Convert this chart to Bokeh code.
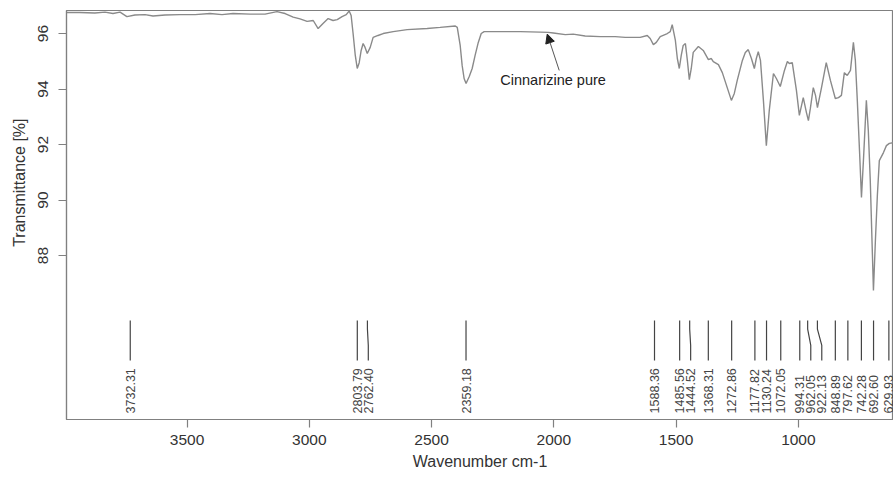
import math
from bokeh.plotting import figure
from bokeh.models import Range1d, FixedTicker, Label, Arrow, NormalHead, ColumnDataSource, Title
from bokeh.embed import file_html
from bokeh.resources import INLINE
from bokeh.core.properties import value

# ---- data ----
wavenumber = [3991, 3938, 3877, 3836, 3803, 3774, 3746, 3713, 3672, 3639, 3590, 3529, 3467,
              3406, 3357, 3312, 3242, 3181, 3132, 3099, 3066, 3038, 3009, 2984, 2964, 2944,
              2923, 2903, 2886, 2866, 2849, 2837, 2829, 2821, 2812, 2804, 2796, 2788, 2780,
              2772, 2763, 2751, 2739, 2719, 2698, 2657, 2600, 2518, 2465, 2403, 2395, 2383,
              2375, 2367, 2359, 2346, 2334, 2322, 2309, 2297, 2285, 2219, 2137, 2056, 2023,
              2002, 1953, 1921, 1872, 1810, 1749, 1708, 1647, 1618, 1606, 1593, 1581, 1565,
              1536, 1524, 1516, 1503, 1495, 1487, 1479, 1471, 1462, 1454, 1446, 1438, 1430,
              1409, 1389, 1368, 1356, 1348, 1327, 1311, 1291, 1274, 1262, 1250, 1229, 1217,
              1205, 1192, 1180, 1172, 1164, 1155, 1143, 1131, 1119, 1102, 1090, 1074, 1057,
              1045, 1037, 1025, 1008, 996, 980, 967, 959, 951, 939, 930, 922, 906, 886, 869,
              849, 836, 824, 812, 800, 787, 775, 767, 759, 750, 742, 734, 722, 714, 706, 693,
              685, 677, 669, 652, 640, 628, 611]
transmittance = [96.76, 96.76, 96.74, 96.77, 96.72, 96.77, 96.61, 96.67, 96.68, 96.63, 96.67,
                 96.68, 96.68, 96.72, 96.68, 96.72, 96.70, 96.70, 96.79, 96.72, 96.59, 96.53,
                 96.44, 96.47, 96.18, 96.36, 96.54, 96.47, 96.50, 96.61, 96.68, 96.81, 96.65,
                 96.00, 95.21, 94.74, 94.95, 95.39, 95.64, 95.50, 95.28, 95.50, 95.86, 95.93,
                 96.00, 96.07, 96.14, 96.18, 96.22, 96.27, 96.22, 95.57, 94.85, 94.38, 94.20,
                 94.45, 94.74, 95.21, 95.68, 96.00, 96.07, 96.07, 96.07, 96.05, 96.04, 96.02,
                 95.96, 95.98, 95.91, 95.89, 95.89, 95.86, 95.86, 95.93, 95.82, 95.60, 95.68,
                 95.89, 96.00, 96.07, 96.32, 95.75, 95.10, 94.74, 95.21, 95.57, 95.64, 95.03,
                 94.34, 94.74, 95.32, 95.53, 95.39, 95.06, 95.10, 94.99, 94.88, 94.59, 94.05,
                 93.59, 93.84, 94.31, 95.03, 95.32, 95.42, 95.10, 94.74, 95.10, 95.35, 95.03,
                 93.59, 91.96, 93.23, 94.56, 94.38, 94.09, 94.67, 94.99, 94.92, 94.95, 93.95,
                 93.05, 93.69, 93.15, 92.86, 93.30, 94.05, 93.77, 93.33, 94.02, 94.95, 94.31,
                 93.66, 93.69, 93.77, 94.59, 94.49, 94.67, 95.68, 95.03, 93.59, 91.78, 90.09,
                 91.42, 93.59, 92.50, 90.70, 86.74, 88.54, 90.16, 91.42, 91.71, 91.96, 92.04,
                 92.07]
peak_positions = [3732.31, 2803.79, 2762.40, 2359.18, 1588.36, 1485.56, 1444.52, 1368.31,
                  1272.86, 1177.82, 1130.24, 1072.05, 994.31, 962.05, 922.13, 848.89,
                  797.62, 742.28, 692.60, 629.93]
peak_labels = ["%.2f" % v for v in peak_positions]
x_ticks = [3500, 3000, 2500, 2000, 1500, 1000]
y_ticks = [88, 90, 92, 94, 96]
sample_name = "Cinnarizine pure"
x_title = "Wavenumber cm-1"
y_title = "Transmittance [%]"

FONT = "Liberation Sans"

p = figure(width=893, height=480, output_backend="svg", toolbar_location=None,
           x_range=Range1d(3993, 611), y_range=Range1d(82.09, 96.83),
           min_border_left=66, min_border_right=0, min_border_top=10, min_border_bottom=61)
p.background_fill_color = "white"
p.border_fill_color = "white"
p.outline_line_color = "#808080"
p.outline_line_width = 1.2
p.grid.visible = False

for ax in (p.xaxis[0], p.yaxis[0]):
    ax.axis_line_color = "#808080"
    ax.axis_line_width = 1.2
    ax.major_tick_line_color = "#808080"
    ax.major_tick_line_width = 1.2
    ax.major_tick_out = 8
    ax.major_tick_in = 0
    ax.minor_tick_line_color = None
    ax.major_label_text_font = FONT
    ax.major_label_text_font_size = "15.5px"
    ax.major_label_text_color = "#333333"

p.xaxis.ticker = FixedTicker(ticks=x_ticks)
p.yaxis.ticker = FixedTicker(ticks=y_ticks)
p.xaxis.major_label_standoff = 7
p.yaxis.major_label_standoff = 10
p.yaxis.major_label_orientation = "vertical"
p.xaxis.axis_label = x_title
p.xaxis.axis_label_text_font = FONT
p.xaxis.axis_label_text_font_style = "normal"
p.xaxis.axis_label_text_font_size = "16px"
p.xaxis.axis_label_text_color = "#333333"
p.xaxis.axis_label_standoff = 5

# y axis title, placed like the reference (not centred on the frame)
p.add_layout(Title(text=y_title, align="right", offset=108, text_font=FONT,
                   text_font_size="16px", text_font_style="normal",
                   text_color="#333333", standoff=16), "left")

# spectrum
p.line(wavenumber, transmittance, line_color="#8a8a8a", line_width=1.4)

# peak markers with label spreading
gap = 45.0
label_x = []
prev = None
for w in peak_positions:
    lx = w if prev is None else min(w, prev - gap)
    label_x.append(lx)
    prev = lx
xs = [[w, w, lx, lx] for w, lx in zip(peak_positions, label_x)]
ys = [[85.66, 85.35, 84.76, 84.22] for _ in peak_positions]
p.multi_line(xs, ys, line_color="#444444", line_width=1.2)
src = ColumnDataSource(dict(x=label_x, y=[82.31] * len(label_x), t=peak_labels))
p.text(x="x", y="y", text="t", source=src, angle=math.pi / 2, text_align="left",
       text_baseline="middle", text_font=value(FONT), text_font_size="12.5px",
       text_color="#444444")

# annotation
p.add_layout(Arrow(end=NormalHead(size=9, fill_color="#222222", line_color="#222222"),
                   x_start=1978, y_start=94.67, x_end=2027, y_end=95.98,
                   line_color="#555555", line_width=1))
p.add_layout(Label(x=2219, y=94.32, text=sample_name, text_baseline="middle",
                   text_font=FONT, text_font_size="14.5px", text_color="#222222"))

open("out.html", "w").write(file_html(p, INLINE))
